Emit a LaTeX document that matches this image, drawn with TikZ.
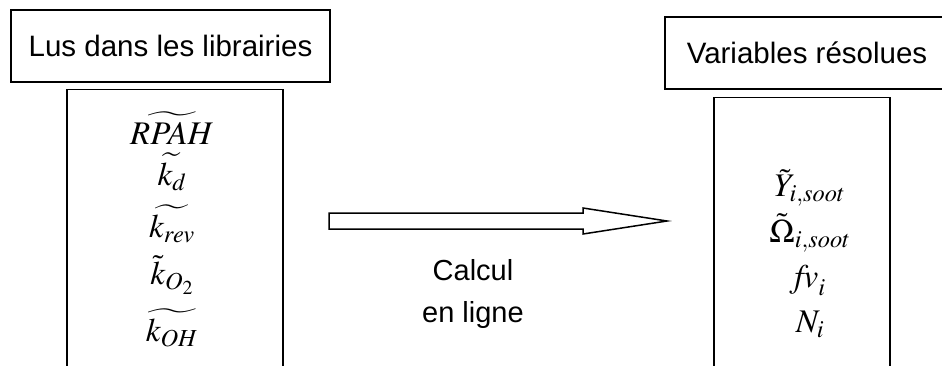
\documentclass[tikz,border=0pt]{standalone}
\usepackage{mathptmx}
\usepackage[no-math]{fontspec}
\setmainfont{Liberation Sans}
\usetikzlibrary{calc}
\begin{document}
\begin{tikzpicture}[x=1pt,y=-1pt, line width=1.3pt,
  titlebox/.style={draw, font=\fontsize{29.5}{34}\selectfont, inner sep=0pt, minimum height=72pt},
  listbox/.style={draw, inner sep=0pt, minimum height=420pt},
  mathlbl/.style={font=\fontsize{33}{38}\selectfont, inner sep=0pt},
  plainlbl/.style={font=\fontsize{29}{34}\selectfont, inner sep=0pt}]
\useasboundingbox (0,0) rectangle (942,365);
\clip (0,0) rectangle (942,365);
% left
\node[titlebox, minimum width=319pt] (lt) at (170.5,46) {Lus dans les librairies};
\node[listbox, minimum width=216pt, anchor=north] (lc) at (175,89) {};
\node[mathlbl] (m1) at (172,128) {$\widetilde{RPAH}$};
\node[mathlbl] (m2) at (172,172) {$\widetilde{k_d}$};
\node[mathlbl] (m3) at (172,224) {$\widetilde{k_{rev}}$};
\node[mathlbl] (m4) at (172,275) {$\tilde{k}_{O_2}$};
\node[mathlbl] (m5) at (172,328) {$\widetilde{k_{OH}}$};
% right
\node[titlebox, minimum width=284pt] (rt) at (807,53) {Variables résolues};
\node[listbox, minimum width=176pt, anchor=north] (rc) at (802,97) {};
\node[mathlbl] (r1) at (810,188) {$\tilde{Y}_{i,soot}$};
\node[mathlbl] (r2) at (810,233) {$\tilde{\Omega}_{i,soot}$};
\node[mathlbl] (r3) at (810,280) {$\mathit{fv}_i$};
\node[mathlbl] (r4) at (810,324) {$N_i$};
% arrow
\coordinate (as) at (329,221);
\coordinate (ae) at (667,221);
\draw[line width=1.5pt] ($(as)+(0,-8)$) -- (583,213) -- (583,208) -- (ae) -- (583,234) -- (583,229) -- ($(as)+(0,8)$) -- cycle;
\node[plainlbl] (c1) at (473,270) {Calcul};
\node[plainlbl] (c2) at (473,315) {en ligne};
\end{tikzpicture}
\end{document}
